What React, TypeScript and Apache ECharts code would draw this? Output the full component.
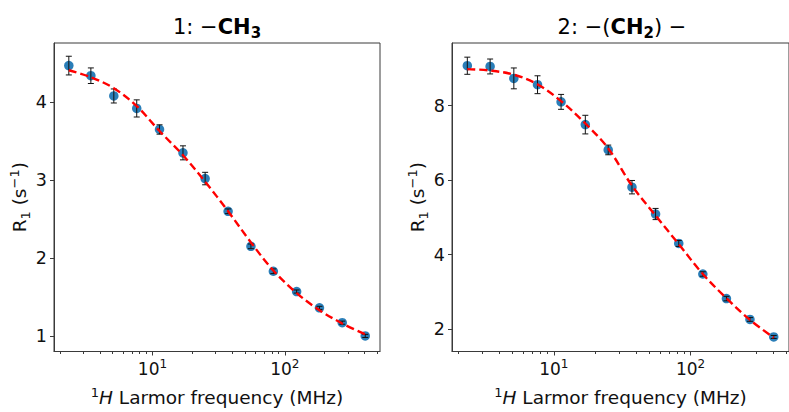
import React, { useEffect, useRef } from 'react';
import * as echarts from 'echarts';

// 1H Larmor frequency (MHz)
const freq = [2.33, 3.42, 5.1, 7.6, 11.3, 17, 25, 37.3, 55.5, 82, 123, 183, 272, 406];
// Panel 1: -CH3
const r1Ch3 = [4.47, 4.34, 4.08, 3.92, 3.65, 3.35, 3.02, 2.6, 2.15, 1.83, 1.57, 1.36, 1.17, 1.0];
const errCh3 = [0.12, 0.1, 0.09, 0.11, 0.06, 0.09, 0.08, 0.03, 0.03, 0.03, 0.02, 0.02, 0.02, 0.02];
const fitCh3 = [4.41, 4.32, 4.18, 3.95, 3.63, 3.32, 2.98, 2.6, 2.2, 1.84, 1.55, 1.33, 1.16, 1.02];
// Panel 2: -(CH2)-
const r1Ch2 = [9.07, 9.05, 8.73, 8.56, 8.1, 7.49, 6.81, 5.81, 5.09, 4.3, 3.48, 2.82, 2.26, 1.79];
const errCh2 = [0.23, 0.2, 0.28, 0.24, 0.2, 0.25, 0.13, 0.18, 0.15, 0.08, 0.06, 0.06, 0.05, 0.04];
const fitCh2 = [8.98, 8.94, 8.83, 8.57, 8.12, 7.52, 6.85, 5.85, 5.05, 4.28, 3.48, 2.83, 2.25, 1.77];
// ticks
const majorX = [10, 100];
const minorX = [2, 3, 4, 5, 6, 7, 8, 9, 20, 30, 40, 50, 60, 70, 80, 90, 200, 300, 400, 500];
const yTicksCh3 = [1, 2, 3, 4];
const yTicksCh2 = [2, 4, 6, 8];

const FONT = 'DejaVu Sans';
const INK = '#111';
const FRAME = '#3a3a3a';

const richBase = {
  n: { fontFamily: FONT, fontSize: 18.5, color: INK, lineHeight: 24 },
  i: { fontFamily: FONT, fontSize: 18.5, color: INK, fontStyle: 'italic', lineHeight: 24 },
  sup: { fontFamily: FONT, fontSize: 13, color: INK, verticalAlign: 'top', lineHeight: 13 },
  sub: { fontFamily: FONT, fontSize: 13, color: INK, verticalAlign: 'bottom', lineHeight: 13 },
};
const tickRich = {
  n: { fontFamily: FONT, fontSize: 17, color: INK, lineHeight: 22 },
  sup: { fontFamily: FONT, fontSize: 12, color: INK, verticalAlign: 'top', lineHeight: 13 },
};

function xAxes(gridIndex: number) {
  return [
    {
      type: 'log', logBase: 10, gridIndex, min: 1.8, max: 525, position: 'bottom',
      axisLine: { show: true, lineStyle: { color: FRAME, width: 1 } },
      splitLine: { show: false },
      axisTick: { show: true, customValues: majorX, length: 4, lineStyle: { color: FRAME } },
      axisLabel: {
        customValues: majorX, margin: 6,
        formatter: (v: number) => (Math.round(Math.log10(v)) === 1 ? '{n|10}{sup|1}' : '{n|10}{sup|2}'),
        rich: tickRich,
      },
      name: '{sup|1}{i|H}{n| Larmor frequency (MHz)}',
      nameLocation: 'middle', nameGap: 34,
      nameTextStyle: { rich: richBase },
    },
    {
      type: 'log', logBase: 10, gridIndex, min: 1.8, max: 525, position: 'bottom', offset: 0,
      axisLine: { show: false },
      splitLine: { show: false },
      axisTick: { show: true, customValues: minorX, length: 2.5, lineStyle: { color: FRAME } },
      axisLabel: { show: false },
    },
  ];
}

function yAxis(gridIndex: number, min: number, max: number, ticks: number[]) {
  return {
    type: 'value', gridIndex, min, max,
    axisLine: { show: true, lineStyle: { color: FRAME, width: 1 } },
    splitLine: { show: false },
    axisTick: { show: true, customValues: ticks, length: 4, lineStyle: { color: FRAME } },
    axisLabel: { customValues: ticks, fontFamily: FONT, fontSize: 17.5, color: INK, margin: 7 },
    name: '{n|R}{sub|1}{n| (s}{sup|−1}{n|)}',
    nameLocation: 'middle', nameGap: 22,
    nameTextStyle: { rich: richBase },
  };
}

function panelSeries(xIdx: number, yIdx: number, r1: number[], err: number[], fit: number[]) {
  return [
    {
      type: 'scatter', xAxisIndex: xIdx, yAxisIndex: yIdx, z: 2,
      symbol: 'circle', symbolSize: 9.5,
      itemStyle: { color: '#1f77b4', opacity: 0.95 },
      data: freq.map((f, i) => [f, r1[i]]),
    },
    {
      type: 'custom', xAxisIndex: xIdx, yAxisIndex: yIdx, z: 3,
      renderItem: (params: any, api: any) => {
        const x = api.value(0), y = api.value(1), e = api.value(2);
        const top = api.coord([x, y + e]);
        const bot = api.coord([x, y - e]);
        const st = { stroke: '#111', lineWidth: 1 };
        return {
          type: 'group',
          children: [
            { type: 'line', shape: { x1: top[0], y1: top[1], x2: bot[0], y2: bot[1] }, style: st },
            { type: 'line', shape: { x1: top[0] - 3, y1: top[1], x2: top[0] + 3, y2: top[1] }, style: st },
            { type: 'line', shape: { x1: bot[0] - 3, y1: bot[1], x2: bot[0] + 3, y2: bot[1] }, style: st },
          ],
        };
      },
      data: freq.map((f, i) => [f, r1[i], err[i]]),
    },
    {
      type: 'line', xAxisIndex: xIdx, yAxisIndex: yIdx, z: 4,
      smooth: 0.35, symbol: 'none',
      lineStyle: { color: '#ff0000', width: 2.4, type: [8, 4] },
      data: freq.map((f, i) => [f, fit[i]]),
    },
  ];
}

export default function App() {
  const ref = useRef<HTMLDivElement>(null);
  useEffect(() => {
    if (!ref.current) return;
    const chart = echarts.init(ref.current, undefined, { renderer: 'svg' });
    const titleRich = {
      n: { fontFamily: FONT, fontSize: 21, color: INK, lineHeight: 27 },
      b: { fontFamily: FONT, fontSize: 21, color: INK, fontWeight: 'bold', lineHeight: 27 },
      bs: { fontFamily: FONT, fontSize: 15, color: INK, fontWeight: 'bold', verticalAlign: 'bottom', lineHeight: 15 },
    };
    chart.setOption({
      animation: false,
      backgroundColor: '#ffffff',
      grid: [
        { left: 54, top: 43, width: 326, height: 312, show: true, borderColor: FRAME, borderWidth: 1, backgroundColor: 'transparent' },
        { left: 452, top: 43, width: 341, height: 311, show: true, borderColor: FRAME, borderWidth: 1, backgroundColor: 'transparent' },
      ],
      xAxis: [...xAxes(0), ...xAxes(1)],
      yAxis: [yAxis(0, 0.8, 4.76, yTicksCh3), yAxis(1, 1.4, 9.68, yTicksCh2)],
      series: [
        ...panelSeries(0, 0, r1Ch3, errCh3, fitCh3),
        ...panelSeries(2, 1, r1Ch2, errCh2, fitCh2),
      ],
      graphic: [
        {
          type: 'text', x: 217, y: 27,
          style: { text: '{n|1: −}{b|CH}{bs|3}', rich: titleRich, align: 'center', verticalAlign: 'middle' },
        },
        {
          type: 'text', x: 622, y: 27,
          style: { text: '{n|2: −(}{b|CH}{bs|2}{n|) −}', rich: titleRich, align: 'center', verticalAlign: 'middle' },
        },
      ],
    });
    return () => chart.dispose();
  }, []);
  return <div ref={ref} style={{ position: 'absolute', left: 0, top: 0, width: 789, height: 412, overflow: 'hidden' }} />;
}
